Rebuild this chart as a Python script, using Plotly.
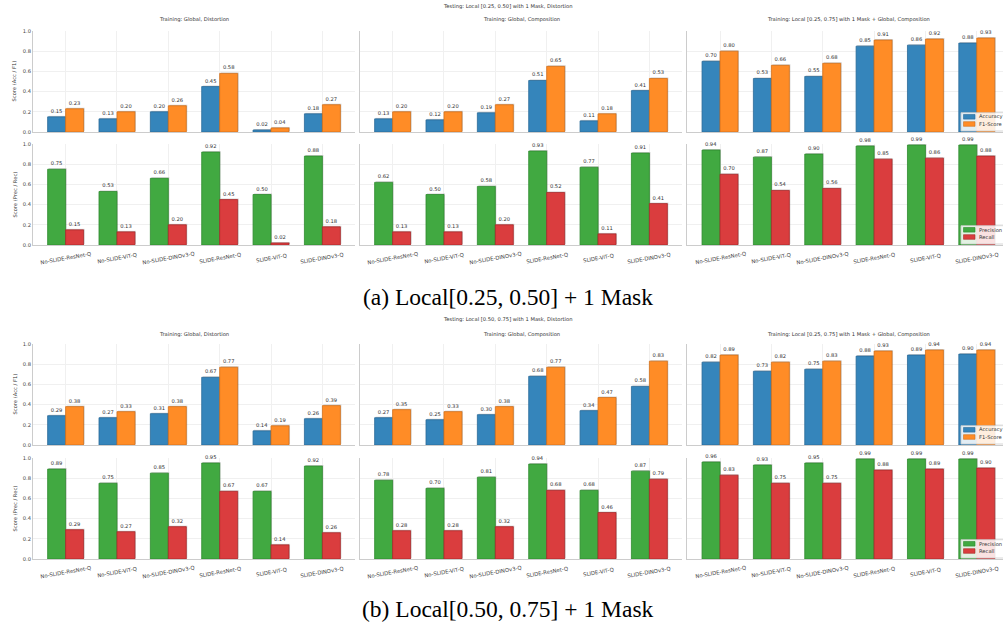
import plotly.graph_objects as go

W, H = 1003, 626

categories = ["No-SLIDE-ResNet-Q", "No-SLIDE-ViT-Q", "No-SLIDE-DINOv3-Q",
              "SLIDE-ResNet-Q", "SLIDE-ViT-Q", "SLIDE-DINOv3-Q"]

train_titles = ["Training: Global, Distortion",
                "Training: Global, Composition",
                "Training: Local [0.25, 0.75] with 1 Mask + Global, Composition"]
test_titles = ["Testing: Local [0.25, 0.50] with 1 Mask, Distortion",
               "Testing: Local [0.50, 0.75] with 1 Mask, Distortion"]
captions = ["(a) Local[0.25, 0.50] + 1 Mask", "(b) Local[0.50, 0.75] + 1 Mask"]
y_titles = ["Score (Acc / F1)", "Score (Prec / Rec)"]
y_ticks = [0.0, 0.2, 0.4, 0.6, 0.8, 1.0]

# ---- Panel (a): Testing Local [0.25, 0.50] ----
a_gd_acc = [0.15, 0.13, 0.20, 0.45, 0.02, 0.18]
a_gd_f1 = [0.23, 0.20, 0.26, 0.58, 0.04, 0.27]
a_gd_prec = [0.75, 0.53, 0.66, 0.92, 0.50, 0.88]
a_gd_rec = [0.15, 0.13, 0.20, 0.45, 0.02, 0.18]

a_gc_acc = [0.13, 0.12, 0.19, 0.51, 0.11, 0.41]
a_gc_f1 = [0.20, 0.20, 0.27, 0.65, 0.18, 0.53]
a_gc_prec = [0.62, 0.50, 0.58, 0.93, 0.77, 0.91]
a_gc_rec = [0.13, 0.13, 0.20, 0.52, 0.11, 0.41]

a_lg_acc = [0.70, 0.53, 0.55, 0.85, 0.86, 0.88]
a_lg_f1 = [0.80, 0.66, 0.68, 0.91, 0.92, 0.93]
a_lg_prec = [0.94, 0.87, 0.90, 0.98, 0.99, 0.99]
a_lg_rec = [0.70, 0.54, 0.56, 0.85, 0.86, 0.88]

# ---- Panel (b): Testing Local [0.50, 0.75] ----
b_gd_acc = [0.29, 0.27, 0.31, 0.67, 0.14, 0.26]
b_gd_f1 = [0.38, 0.33, 0.38, 0.77, 0.19, 0.39]
b_gd_prec = [0.89, 0.75, 0.85, 0.95, 0.67, 0.92]
b_gd_rec = [0.29, 0.27, 0.32, 0.67, 0.14, 0.26]

b_gc_acc = [0.27, 0.25, 0.30, 0.68, 0.34, 0.58]
b_gc_f1 = [0.35, 0.33, 0.38, 0.77, 0.47, 0.83]
b_gc_prec = [0.78, 0.70, 0.81, 0.94, 0.68, 0.87]
b_gc_rec = [0.28, 0.28, 0.32, 0.68, 0.46, 0.79]

b_lg_acc = [0.82, 0.73, 0.75, 0.88, 0.89, 0.90]
b_lg_f1 = [0.89, 0.82, 0.83, 0.93, 0.94, 0.94]
b_lg_prec = [0.96, 0.93, 0.95, 0.99, 0.99, 0.99]
b_lg_rec = [0.83, 0.75, 0.75, 0.88, 0.89, 0.90]

panels = [
    [[(a_gd_acc, a_gd_f1), (a_gc_acc, a_gc_f1), (a_lg_acc, a_lg_f1)],
     [(a_gd_prec, a_gd_rec), (a_gc_prec, a_gc_rec), (a_lg_prec, a_lg_rec)]],
    [[(b_gd_acc, b_gd_f1), (b_gc_acc, b_gc_f1), (b_lg_acc, b_lg_f1)],
     [(b_gd_prec, b_gd_rec), (b_gc_prec, b_gc_rec), (b_lg_prec, b_lg_rec)]],
]
series_names = [("Accuracy", "F1-Score"), ("Precision", "Recall")]

# ---- styling ----
FONT = "DejaVu Sans"
FS = 5.2
TXT = "#333333"
GRID = "#f0f0f0"
SPINE = "#cccccc"
fills = [("#3585bb", "#ff8c26"), ("#41a941", "#da3d3e")]
edges = [("#2a6a98", "#d0701c"), ("#2e8a2e", "#a82a2b")]
BW = 0.35
SH_DX, SH_DY = 0.02, 0.01
X_LO, X_HI = -0.635, 5.635

col_px = [(33.0, 355.0), (360.0, 682.0), (687.4, 1009.4)]
row_px = [[(31, 132), (144, 245)], [(344, 445), (458, 559)]]
suptitle_y = [6, 319]
subtitle_y = [20, 334]
caption_y = [297, 609]
CENTER_X = 508


def px_x(v):
    return v / W


def px_y(v):
    return 1 - v / H


fig = go.Figure()
layout = dict(
    width=W, height=H,
    margin=dict(l=0, r=0, t=0, b=0, autoexpand=False),
    paper_bgcolor="white", plot_bgcolor="white",
    barmode="overlay", showlegend=False,
    font=dict(family=FONT, size=FS, color=TXT),
)
annotations = []
shapes = []
xs = list(range(len(categories)))

k = 0
for p in range(2):
    for r in range(2):
        for c in range(3):
            k += 1
            xa = "x" if k == 1 else f"x{k}"
            ya = "y" if k == 1 else f"y{k}"
            x0, x1 = col_px[c]
            unit = (x1 - x0) / (X_HI - X_LO)
            hi = X_HI
            if x1 > W:
                hi = X_LO + (W - x0) / unit
                x1 = W
            y0, y1 = row_px[p][r]
            layout["xaxis" if k == 1 else f"xaxis{k}"] = dict(
                domain=[px_x(x0), px_x(x1)], range=[X_LO, hi], anchor=ya,
                tickvals=xs, showticklabels=False, ticks="",
                showgrid=True, gridcolor=GRID, gridwidth=0.8,
                showline=True, linecolor=SPINE, linewidth=0.8,
                zeroline=False, fixedrange=True,
            )
            layout["yaxis" if k == 1 else f"yaxis{k}"] = dict(
                domain=[px_y(y1), px_y(y0)], range=[0, 1], anchor=xa,
                tickvals=y_ticks, ticktext=[f"{t:.1f}" for t in y_ticks],
                showticklabels=(c == 0), ticks="",
                tickfont=dict(size=FS, color="#444444", family=FONT),
                showgrid=True, gridcolor=GRID, gridwidth=0.8,
                showline=True, linecolor=SPINE, linewidth=0.8,
                zeroline=False, fixedrange=True,
            )
            v1, v2 = panels[p][r][c]
            # shadows
            for vals, off in ((v1, -BW), (v2, 0.0)):
                fig.add_trace(go.Bar(
                    x=xs, y=vals, base=[SH_DY] * len(vals), width=BW, offset=off + SH_DX,
                    marker=dict(color="rgba(0,0,0,0.18)", line=dict(width=0)),
                    xaxis=xa, yaxis=ya, hoverinfo="skip", showlegend=False,
                ))
            for i, (vals, off) in enumerate(((v1, -BW), (v2, 0.0))):
                fig.add_trace(go.Bar(
                    x=xs, y=vals, width=BW, offset=off, name=series_names[r][i],
                    marker=dict(color=fills[r][i], line=dict(color=edges[r][i], width=0.8)),
                    text=[f"{v:.2f}" for v in vals], textposition="outside",
                    textfont=dict(size=FS, color=TXT, family=FONT),
                    constraintext="none", cliponaxis=False,
                    xaxis=xa, yaxis=ya, showlegend=False,
                ))
            # subplot title
            if r == 0:
                annotations.append(dict(
                    text=train_titles[c], xref="paper", yref="paper",
                    x=px_x((col_px[c][0] + col_px[c][1]) / 2), y=px_y(subtitle_y[p]),
                    xanchor="center", yanchor="middle", showarrow=False,
                    font=dict(size=FS, color=TXT, family=FONT),
                ))
            # y axis title
            if c == 0:
                annotations.append(dict(
                    text=y_titles[r], xref="paper", yref="paper",
                    x=px_x(14), y=px_y((y0 + y1) / 2), textangle=-90,
                    xanchor="center", yanchor="middle", showarrow=False,
                    font=dict(size=FS, color=TXT, family=FONT),
                ))
            # category labels under bottom row
            if r == 1:
                for i, cat in enumerate(categories):
                    annotations.append(dict(
                        text=cat, xref=xa, yref="paper", x=i, y=px_y(y1 + 13),
                        xanchor="center", yanchor="middle", textangle=-10,
                        showarrow=False,
                        font=dict(size=5.3, color="#444444", family=FONT),
                    ))
            # legend (right column)
            if c == 2:
                rb = y1
                shapes.append(dict(
                    type="rect", xref="paper", yref="paper",
                    x0=px_x(961), x1=px_x(1015), y0=px_y(rb - 1), y1=px_y(rb - 19.3),
                    fillcolor="rgba(255,255,255,0.85)", line=dict(color="#cccccc", width=0.8),
                    layer="above",
                ))
                for j, cy in enumerate((rb - 15.2, rb - 8.0)):
                    shapes.append(dict(
                        type="rect", xref="paper", yref="paper",
                        x0=px_x(963.5), x1=px_x(975), y0=px_y(cy + 2.3), y1=px_y(cy - 2.3),
                        fillcolor=fills[r][j], line=dict(color=edges[r][j], width=0.6),
                        layer="above",
                    ))
                    annotations.append(dict(
                        text=series_names[r][j], xref="paper", yref="paper",
                        x=px_x(976.5), y=px_y(cy), xanchor="left", yanchor="middle",
                        showarrow=False, font=dict(size=FS, color=TXT, family=FONT),
                    ))
    # panel super-title and caption
    annotations.append(dict(
        text=test_titles[p], xref="paper", yref="paper",
        x=px_x(CENTER_X), y=px_y(suptitle_y[p]), xanchor="center", yanchor="middle",
        showarrow=False, font=dict(size=FS, color=TXT, family=FONT),
    ))
    annotations.append(dict(
        text=captions[p], xref="paper", yref="paper",
        x=px_x(CENTER_X), y=px_y(caption_y[p]), xanchor="center", yanchor="middle",
        showarrow=False, font=dict(size=23.5, color="#000000", family="Liberation Serif"),
    ))

layout["annotations"] = annotations
layout["shapes"] = shapes
fig.update_layout(**layout)
fig.write_html(
    "out.html",
    config={"displayModeBar": False},
    post_script="document.body.style.margin='0';document.body.style.overflow='hidden';",
)
